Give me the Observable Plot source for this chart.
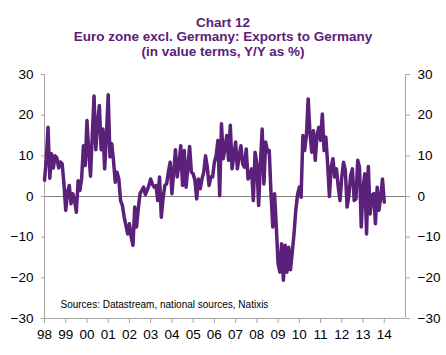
<!DOCTYPE html>
<html><head><meta charset="utf-8">
<script src="https://cdn.jsdelivr.net/npm/d3@7"></script>
<script src="https://cdn.jsdelivr.net/npm/@observablehq/plot@0.6"></script>
<style>
body{margin:0;background:#fff;font-family:Arial,"Liberation Sans",sans-serif;}
#title{width:446px;height:60px;box-sizing:border-box;padding-top:16px;text-align:center;color:#5b2079;font-weight:bold;font-size:13.5px;line-height:14.3px;}
#chart svg{display:block;}
</style></head><body>
<div id="title"><div>Chart 12</div><div>Euro zone excl. Germany: Exports to Germany</div><div>(in value terms, Y/Y as %)</div></div>
<div id="chart"></div>
<script>
// Monthly values, Jan 1998 .. Jan 2014 (Y/Y %)
const startYear = 1998;
const values = [
  4, 9, 17, 4.5, 10.5, 7, 10, 9.5, 7, 8.5, 8, 3,            // 1998
  -3.4, 1, 2.7, -1.8, 0.7, -1, -3.9, 3.9, 1.5, 4.5, 12.5, 7.6, // 1999
  18.7, 11, 5, 15, 24.7, 11.5, 18, 22.4, 11.5, 16.6, 6.8, 15,  // 2000
  25, 9.7, 13, 8.8, 3.5, 6, 4.3, -1, -2.2, -5, -7.1, -9.2,     // 2001
  -6.7, -10, -12, -2.6, -7.5, -3, 0.7, 1.5, 2.3, 0.5, 1.5, 2.7, // 2002
  4.3, 3, 2.3, 2.7, -1, 4.8, -5.1, -0.5, 2.7, 3.1, 6, 8.4,     // 2003
  0.7, 6, 11.5, 4.8, 8, 12.5, 2.7, 11.3, 2.3, 7, 12.3, 6,      // 2004
  5.6, 4, -0.6, 4.3, 1.9, 4.3, 6, 10, 7.2, 2.7, 4.8, 4.8,      // 2005
  8.4, 10, 13.8, 0.2, 17.9, 9.3, 12, 15, 8.9, 17.5, 6.8, 10,   // 2006
  13.4, 6.8, 10, 12.5, 8, 7.2, 11.7, 4.3, 5, 6.8, -1, 10.9,    // 2007
  8, -2.2, 8, 16.6, 3.1, 13.4, 11, 11.3, 0.7, -7.5, 0.7, -7.5, // 2008
  -16.5, -18.6, -11.6, -20.6, -12, -18.6, -12.5, -18, -13.7, -9.2, -3.4, 0.5, // 2009
  2.3, -0.2, 15, 11.3, 15, 24, 15.8, 10.9, 16.2, 8.9, 15, 17,  // 2010
  13.8, 20.3, 11.3, 14.6, 8, 0, 7.2, 9.3, 4.8, 6.8, 2.3, -1,   // 2011
  4.8, 8.4, 6.4, -2.6, 0.2, 5.2, 6.8, -1, -0.6, 8.9, 7.2, -7.5, // 2012
  2, 5.6, -9.2, 7.4, -4.3, 0.2, 0.7, -6.7, 2.3, -3.4, -0.2, 4.3, // 2013
  -1.4                                                          // 2014
];
const yearTicks = [1998,1999,2000,2001,2002,2003,2004,2005,2006,2007,2008,2009,2010,2011,2012,2013,2014];
const yTicks = [-30,-20,-10,0,10,20,30];
const xDomain = [1998, 2015];
const yDomain = [-30, 30];
const source = "Sources: Datastream, national sources, Natixis";

const data = values.map((v, i) => ({date: startYear + i / 12, value: v}));
const axisGray = "#a6a6a6";
const fmtYear = d => String(d).slice(2);

const chart = Plot.plot({
  width: 446,
  height: 295,
  marginTop: 14,
  marginBottom: 37,
  marginLeft: 44,
  marginRight: 41,
  style: {fontFamily: 'Arial, "Liberation Sans", sans-serif', fontSize: "13.5px", color: "#000", background: "#fff", overflow: "visible"},
  x: {domain: xDomain},
  y: {domain: yDomain},
  marks: [
    Plot.ruleY([0], {stroke: "#808080", strokeWidth: 1}),
    Plot.ruleX([xDomain[0]], {stroke: axisGray, strokeWidth: 1}),
    Plot.ruleX([xDomain[1]], {stroke: axisGray, strokeWidth: 1}),
    Plot.ruleY([yDomain[0]], {stroke: axisGray, strokeWidth: 1}),
    Plot.line(data, {x: "date", y: "value", stroke: "#5b2079", strokeWidth: 3.5, strokeLinejoin: "round"}),
    Plot.axisY({anchor: "left", ticks: yTicks, tickSize: 3, tickPadding: 8, stroke: axisGray, fill: "#000", label: null}),
    Plot.axisY({anchor: "right", ticks: yTicks, tickSize: 4, tickPadding: 8, stroke: axisGray, fill: "#000", label: null}),
    Plot.axisX({ticks: yearTicks, tickFormat: fmtYear, tickSize: 5, tickPadding: 6, stroke: axisGray, fill: "#000", label: null}),
    Plot.text([source], {frameAnchor: "bottom-left", dx: 16, dy: -14, lineAnchor: "middle", textAnchor: "start", fontSize: 10, fill: "#000"})
  ]
});
document.getElementById("chart").appendChild(chart);
</script>
</body></html>
